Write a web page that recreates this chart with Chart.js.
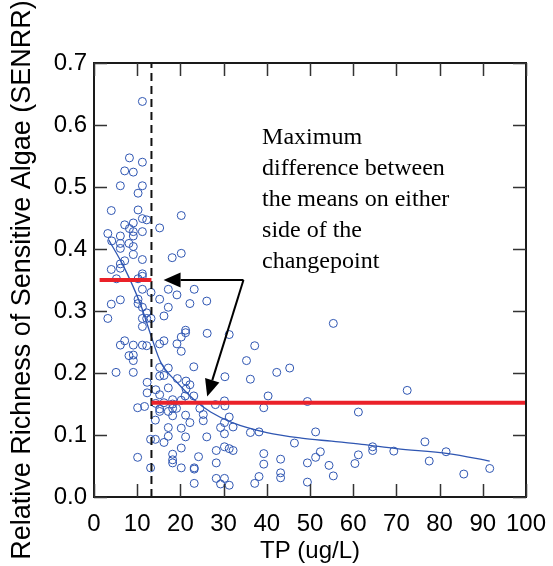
<!DOCTYPE html>
<html><head><meta charset="utf-8">
<script src="https://cdn.jsdelivr.net/npm/chart.js@4.4.1/dist/chart.umd.min.js"></script>
<style>html,body{margin:0;padding:0;background:#fff}#wrap{width:553px;height:566px}</style>
</head><body><div id="wrap"><canvas id="c" width="553" height="566"></canvas></div>
<script>
// Site observations: total phosphorus (ug/L) and relative richness of sensitive algae
const tpValues = [
 11.2, 8.2, 11.2, 7.1, 9.1, 6.1, 11.2, 10.2, 4.0, 10.2,
 11.2, 12.2, 20.2, 7.1, 9.1, 8.2, 15.2, 11.2, 9.1, 9.1,
 3.2, 6.1, 4.1, 6.1, 8.1, 9.1, 6.1, 9.1, 11.2, 18.1,
 20.2, 7.1, 6.1, 6.1, 4.0, 11.2, 11.2, 5.2, 10.2, 17.2,
 11.2, 19.2, 23.2, 26.1, 13.2, 6.1, 4.0, 10.2, 10.2, 11.2,
 15.2, 17.2, 22.2, 16.2, 12.2, 3.2, 11.2, 12.2, 13.2, 11.2,
 21.2, 21.2, 26.2, 20.2, 7.1, 6.1, 9.1, 11.2, 12.2, 15.2,
 16.2, 19.2, 31.3, 20.2, 37.2, 35.3, 23.1, 15.2, 17.2, 15.2,
 16.2, 30.3, 36.2, 19.3, 21.3, 22.2, 21.3, 12.3, 17.2, 14.3,
 12.3, 15.2, 21.1, 23.1, 18.2, 30.2, 14.3, 16.2, 18.2, 20.2,
 28.1, 30.3, 11.7, 24.5, 8.1, 9.1, 9.1, 5.1, 9.1, 10.1,
 15.2, 15.2, 17.2, 18.2, 19.1, 21.2, 25.3, 25.3, 18.2, 14.2,
 22.2, 17.2, 20.2, 17.2, 21.2, 16.2, 13.1, 14.2, 26.1, 20.2,
 10.1, 18.2, 18.2, 18.2, 24.2, 13.1, 20.2, 23.2, 23.2, 23.2,
 42.3, 45.3, 40.3, 39.3, 49.4, 61.2, 31.3, 30.2, 29.3, 32.2,
 30.2, 36.2, 38.2, 51.3, 46.4, 28.3, 30.2, 31.3, 32.2, 39.3,
 52.4, 51.3, 61.2, 28.3, 39.3, 43.2, 49.4, 54.4, 60.4, 55.4,
 43.2, 43.2, 38.2, 37.2, 28.3, 30.2, 29.3, 31.3, 49.4, 55.4,
 72.5, 76.6, 64.5, 64.5, 69.4, 81.5, 77.6, 85.6, 91.6
];
const senrrValues = [
 0.638, 0.547, 0.540, 0.526, 0.524, 0.502, 0.502, 0.490, 0.462, 0.463,
 0.449, 0.447, 0.454, 0.439, 0.442, 0.433, 0.434, 0.428, 0.428, 0.421,
 0.425, 0.421, 0.413, 0.409, 0.409, 0.404, 0.401, 0.391, 0.383, 0.386,
 0.393, 0.381, 0.376, 0.369, 0.367, 0.360, 0.356, 0.352, 0.352, 0.335,
 0.335, 0.326, 0.335, 0.316, 0.330, 0.318, 0.311, 0.319, 0.312, 0.306,
 0.319, 0.306, 0.312, 0.292, 0.297, 0.288, 0.288, 0.288, 0.288, 0.275,
 0.269, 0.265, 0.264, 0.258, 0.252, 0.245, 0.245, 0.245, 0.244, 0.247,
 0.252, 0.247, 0.262, 0.235, 0.244, 0.220, 0.210, 0.209, 0.208, 0.195,
 0.196, 0.194, 0.190, 0.191, 0.187, 0.181, 0.174, 0.185, 0.176, 0.173,
 0.168, 0.165, 0.163, 0.163, 0.157, 0.155, 0.151, 0.152, 0.150, 0.156,
 0.149, 0.147, 0.146, 0.143, 0.228, 0.229, 0.220, 0.201, 0.201, 0.144,
 0.142, 0.138, 0.138, 0.143, 0.143, 0.132, 0.133, 0.123, 0.131, 0.124,
 0.120, 0.112, 0.111, 0.098, 0.097, 0.088, 0.093, 0.093, 0.097, 0.079,
 0.064, 0.069, 0.060, 0.055, 0.065, 0.047, 0.047, 0.047, 0.045, 0.022,
 0.201, 0.208, 0.163, 0.144, 0.154, 0.137, 0.129, 0.120, 0.112, 0.113,
 0.102, 0.104, 0.105, 0.105, 0.087, 0.075, 0.081, 0.078, 0.075, 0.070,
 0.073, 0.064, 0.068, 0.055, 0.053, 0.061, 0.055, 0.051, 0.054, 0.034,
 0.039, 0.031, 0.033, 0.022, 0.030, 0.030, 0.021, 0.019, 0.024, 0.280,
 0.172, 0.089, 0.081, 0.075, 0.074, 0.073, 0.058, 0.037, 0.046
];
// Smoothed trend line
const fitTP     = [3.4, 7.0, 10.8, 13.3, 15.4, 19.2, 23.0, 27.0, 32.0, 40.0, 48.0, 55.0, 62.0, 70.0, 82.0, 91.6];
const fitSENRR  = [0.415, 0.370, 0.310, 0.258, 0.218, 0.185, 0.158, 0.137, 0.120, 0.104, 0.095, 0.090, 0.085, 0.078, 0.070, 0.058];
// Changepoint and group means
const changepointTP = 13.3;
const leftMeanTP = [1.3, 13.3];
const leftMean = 0.35;
const rightMeanTP = [13.3, 100];
const rightMean = 0.152;
// Axis ticks
const xTicks = [0, 10, 20, 30, 40, 50, 60, 70, 80, 90, 100];
const yTicks = [0, 0.1, 0.2, 0.3, 0.4, 0.5, 0.6, 0.7];
// Annotation
const noteLines = ["Maximum", "difference between", "the means on either", "side of the", "changepoint"];
const noteAnchor = {x: 38.9, y: 0.579};
const arrowCorner = {x: 34.6, y: 0.350};
const arrowTips = [{x: 16.1, y: 0.350}, {x: 26.2, y: 0.162}];

const BLUE = '#2f56b2';
const RED = '#ea2129';
const points = tpValues.map((v, i) => ({x: v, y: senrrValues[i]}));
const fit = fitTP.map((v, i) => ({x: v, y: fitSENRR[i]}));

const framePlugin = {
  id: 'frame',
  afterDatasetsDraw(chart) {
    const {ctx, chartArea: a, scales: {x, y}} = chart;
    ctx.save();
    ctx.strokeStyle = '#1a1a1a';
    ctx.lineWidth = 2;
    ctx.strokeRect(a.left, a.top, a.right - a.left, a.bottom - a.top);
    ctx.lineWidth = 1.5;
    ctx.strokeStyle = '#333';
    const tl = 13;
    ctx.beginPath();
    xTicks.forEach(v => {
      const px = Math.round(x.getPixelForValue(v)) + 0.5;
      ctx.moveTo(px, a.bottom); ctx.lineTo(px, a.bottom - tl);
      ctx.moveTo(px, a.top); ctx.lineTo(px, a.top + tl);
    });
    yTicks.forEach(v => {
      const py = Math.round(y.getPixelForValue(v)) + 0.5;
      ctx.moveTo(a.left, py); ctx.lineTo(a.left + tl, py);
      ctx.moveTo(a.right, py); ctx.lineTo(a.right - tl, py);
    });
    ctx.stroke();

    // arrows
    const cx = x.getPixelForValue(arrowCorner.x), cy = y.getPixelForValue(arrowCorner.y);
    ctx.strokeStyle = '#000'; ctx.fillStyle = '#000'; ctx.lineWidth = 2;
    arrowTips.forEach(t => {
      const tx = x.getPixelForValue(t.x), ty = y.getPixelForValue(t.y);
      const ang = Math.atan2(ty - cy, tx - cx);
      const hl = 17, hw = 7.5;
      const bx = tx - hl * Math.cos(ang), by = ty - hl * Math.sin(ang);
      ctx.beginPath(); ctx.moveTo(cx, cy); ctx.lineTo(bx, by); ctx.stroke();
      ctx.beginPath();
      ctx.moveTo(tx, ty);
      ctx.lineTo(bx + hw * Math.sin(ang), by - hw * Math.cos(ang));
      ctx.lineTo(bx - hw * Math.sin(ang), by + hw * Math.cos(ang));
      ctx.closePath(); ctx.fill();
    });

    // note text
    ctx.font = '24px "Liberation Serif", "Times New Roman", serif';
    ctx.fillStyle = '#000';
    ctx.textAlign = 'left';
    ctx.textBaseline = 'middle';
    const nx = x.getPixelForValue(noteAnchor.x), ny = y.getPixelForValue(noteAnchor.y);
    noteLines.forEach((s, i) => ctx.fillText(s, nx, ny + i * 30.8));
    ctx.restore();
  }
};

const tickFont = {family: '"Liberation Sans", Arial, sans-serif', size: 24};
const yTitleFont = {family: '"Liberation Sans", Arial, sans-serif', size: 27};
new Chart(document.getElementById('c'), {
  type: 'scatter',
  data: {datasets: [
    {label: 'left mean', type: 'line', data: leftMeanTP.map(v => ({x: v, y: leftMean})), borderColor: RED, borderWidth: 4, pointRadius: 0, order: 0},
    {label: 'right mean', type: 'line', data: rightMeanTP.map(v => ({x: v, y: rightMean})), borderColor: RED, borderWidth: 4, pointRadius: 0, order: 0},
    {label: 'changepoint', type: 'line', data: [{x: changepointTP, y: 0}, {x: changepointTP, y: 0.7}], borderColor: '#111', borderWidth: 2, borderDash: [8, 5], pointRadius: 0, order: 1},
    {label: 'trend', type: 'line', data: fit, borderColor: BLUE, borderWidth: 1.3, pointRadius: 0, cubicInterpolationMode: 'monotone', order: 2},
    {label: 'sites', data: points, pointStyle: 'circle', pointRadius: 4, borderWidth: 1, borderColor: BLUE, backgroundColor: 'rgba(0,0,0,0)', order: 3}
  ]},
  options: {
    responsive: false, animation: false, devicePixelRatio: 1,
    layout: {padding: {top: 63, right: 27, left: 0, bottom: 0}},
    plugins: {legend: {display: false}, tooltip: {enabled: false}},
    scales: {
      x: {
        type: 'linear', min: 0, max: 100,
        afterBuildTicks: s => { s.ticks = xTicks.map(v => ({value: v})); },
        afterFit: s => { s.height = 69; s.paddingLeft = 0; s.paddingRight = 0; },
        grid: {display: false, drawTicks: false}, border: {display: false},
        ticks: {font: tickFont, color: '#000', padding: 13, maxRotation: 0, autoSkip: false},
        title: {display: true, text: 'TP (ug/L)', font: tickFont, color: '#000', padding: {top: 0, bottom: 0}}
      },
      y: {
        type: 'linear', min: 0, max: 0.7,
        afterBuildTicks: s => { s.ticks = yTicks.map(v => ({value: v})); },
        afterFit: s => { s.width = 94; s.paddingTop = 0; s.paddingBottom = 0; },
        grid: {display: false, drawTicks: false}, border: {display: false},
        ticks: {font: tickFont, color: '#000', padding: 7, autoSkip: false, callback: v => Number(v).toFixed(1)},
        title: {display: true, text: 'Relative Richness of Sensitive Algae (SENRR)', font: yTitleFont, color: '#000', padding: {top: 6, bottom: 0}}
      }
    }
  },
  plugins: [framePlugin]
});
</script></body></html>
